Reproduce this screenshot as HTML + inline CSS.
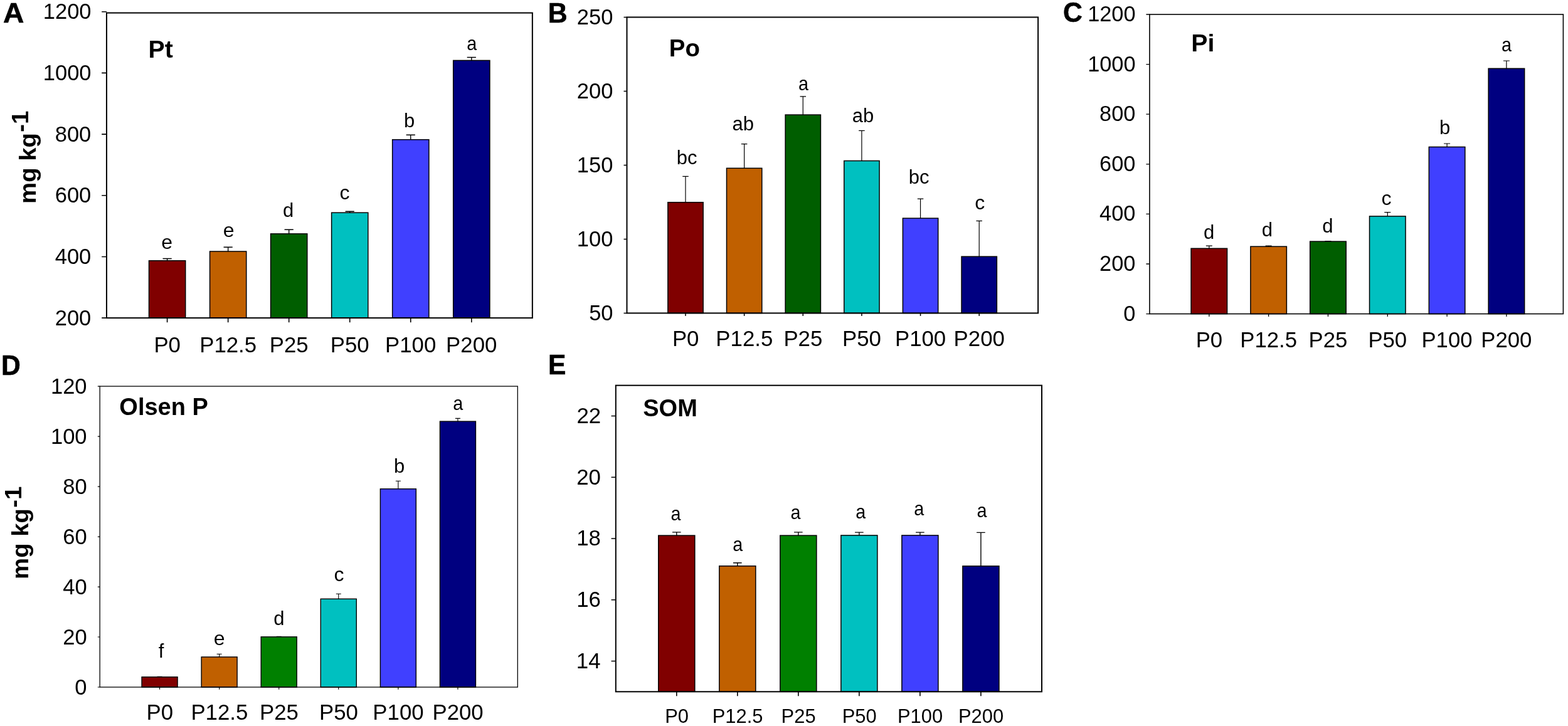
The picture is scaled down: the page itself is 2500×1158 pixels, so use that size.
<!DOCTYPE html>
<html><head><meta charset="utf-8"><title>Figure</title>
<style>html,body{margin:0;padding:0;background:#fff;overflow:hidden;}svg{display:block;}</style>
</head><body>
<svg width="2500" height="1158" viewBox="0 0 2500 1158" font-family='"Liberation Sans", Arial, sans-serif' fill="#000">
<rect width="2500" height="1158" fill="#fff"/>
<path d="M266.6 415.8V412.5M259.5 412.5H273.7" stroke="#000" stroke-width="1.4" fill="none"/>
<rect x="237.5" y="415.8" width="58.2" height="91.35" fill="#800000" stroke="#000" stroke-width="1.5"/>
<path d="M363.64 401V394.3M356.54 394.3H370.74" stroke="#000" stroke-width="1.4" fill="none"/>
<rect x="334.54" y="401" width="58.2" height="106.15" fill="#C06000" stroke="#000" stroke-width="1.5"/>
<path d="M460.68 372.9V366.3M453.58 366.3H467.78" stroke="#000" stroke-width="1.4" fill="none"/>
<rect x="431.58" y="372.9" width="58.2" height="134.25" fill="#005E00" stroke="#000" stroke-width="1.5"/>
<path d="M557.72 339.2V337.2M550.62 337.2H564.82" stroke="#000" stroke-width="1.4" fill="none"/>
<rect x="528.62" y="339.2" width="58.2" height="167.95" fill="#00C0C0" stroke="#000" stroke-width="1.5"/>
<path d="M654.76 222.7V215.2M647.66 215.2H661.86" stroke="#000" stroke-width="1.4" fill="none"/>
<rect x="625.66" y="222.7" width="58.2" height="284.45" fill="#4040FF" stroke="#000" stroke-width="1.5"/>
<path d="M751.8 96.4V91.5M744.7 91.5H758.9" stroke="#000" stroke-width="1.4" fill="none"/>
<rect x="722.7" y="96.4" width="58.2" height="410.75" fill="#000080" stroke="#000" stroke-width="1.5"/>
<path d="M266.6 507.15V514.15M363.64 507.15V514.15M460.68 507.15V514.15M557.72 507.15V514.15M654.76 507.15V514.15M751.8 507.15V514.15" stroke="#000" stroke-width="1.6" fill="none"/>
<rect x="169.95" y="20.55" width="678.9" height="486.6" fill="none" stroke="#000" stroke-width="2"/>
<path d="M162.15 507.15H169.95M162.15 409.46H169.95M162.15 311.77H169.95M162.15 214.08H169.95M162.15 116.39H169.95M162.15 18.7H169.95" stroke="#000" stroke-width="1.6" fill="none"/>
<text transform="translate(87.77 518.65) scale(1 1.02)" font-size="34.5">200</text>
<text transform="translate(87.77 420.96) scale(1 1.02)" font-size="34.5">400</text>
<text transform="translate(87.77 323.27) scale(1 1.02)" font-size="34.5">600</text>
<text transform="translate(87.77 225.58) scale(1 1.02)" font-size="34.5">800</text>
<text transform="translate(68.79 127.89) scale(1 1.02)" font-size="34.5">1000</text>
<text transform="translate(68.79 30.2) scale(1 1.02)" font-size="34.5">1200</text>
<text transform="translate(245.38 562.3) scale(1 1.02)" font-size="34.8">P0</text>
<text transform="translate(318.23 562.3) scale(1 1.02)" font-size="34.8">P12.5</text>
<text transform="translate(429.71 562.3) scale(1 1.02)" font-size="34.8">P25</text>
<text transform="translate(526.75 562.3) scale(1 1.02)" font-size="34.8">P50</text>
<text transform="translate(614.05 562.3) scale(1 1.02)" font-size="34.8">P100</text>
<text transform="translate(711.09 562.3) scale(1 1.02)" font-size="34.8">P200</text>
<text x="257.25" y="396.83" font-size="32">e</text>
<text x="355.7" y="378.28" font-size="32">e</text>
<text x="451.09" y="346.46" font-size="31">d</text>
<text x="541.54" y="318.38" font-size="32">c</text>
<text x="644.01" y="202.66" font-size="31">b</text>
<text transform="translate(744.36 80.38) scale(0.9 1)" font-size="32">a</text>
<text x="236.56" y="91.7" font-size="39.2" font-weight="bold">Pt</text>
<text transform="translate(4.91 35.9) scale(1.05 1)" font-size="44" font-weight="bold" stroke="#000" stroke-width="0.6">A</text>
<path d="M1093 322.7V281.3M1088.25 281.3H1097.75" stroke="#000" stroke-width="1.2" fill="none"/>
<rect x="1064.85" y="322.7" width="56.3" height="176.75" fill="#800000" stroke="#000" stroke-width="1.5"/>
<path d="M1186.64 268.3V229.7M1181.89 229.7H1191.39" stroke="#000" stroke-width="1.2" fill="none"/>
<rect x="1158.49" y="268.3" width="56.3" height="231.15" fill="#C06000" stroke="#000" stroke-width="1.5"/>
<path d="M1280.28 183.1V153.9M1275.53 153.9H1285.03" stroke="#000" stroke-width="1.2" fill="none"/>
<rect x="1252.13" y="183.1" width="56.3" height="316.35" fill="#005E00" stroke="#000" stroke-width="1.5"/>
<path d="M1373.92 256.5V208.3M1369.17 208.3H1378.67" stroke="#000" stroke-width="1.2" fill="none"/>
<rect x="1345.77" y="256.5" width="56.3" height="242.95" fill="#00C0C0" stroke="#000" stroke-width="1.5"/>
<path d="M1467.56 348.1V317.2M1462.81 317.2H1472.31" stroke="#000" stroke-width="1.2" fill="none"/>
<rect x="1439.41" y="348.1" width="56.3" height="151.35" fill="#4040FF" stroke="#000" stroke-width="1.5"/>
<path d="M1561.2 409.2V352.4M1556.45 352.4H1565.95" stroke="#000" stroke-width="1.2" fill="none"/>
<rect x="1533.05" y="409.2" width="56.3" height="90.25" fill="#000080" stroke="#000" stroke-width="1.5"/>
<path d="M1093 499.45V503.95M1186.64 499.45V503.95M1280.28 499.45V503.95M1373.92 499.45V503.95M1467.56 499.45V503.95M1561.2 499.45V503.95" stroke="#000" stroke-width="1.5" fill="none"/>
<rect x="999.5" y="27.45" width="655.6" height="472" fill="none" stroke="#000" stroke-width="2"/>
<path d="M994.5 499.45H999.5M994.5 381.45H999.5M994.5 263.45H999.5M994.5 145.45H999.5M994.5 27.45H999.5" stroke="#000" stroke-width="1.5" fill="none"/>
<text transform="translate(939.19 511.39) scale(1 1.02)" font-size="34.5">50</text>
<text transform="translate(919.87 393.39) scale(1 1.02)" font-size="34.5">100</text>
<text transform="translate(919.87 275.39) scale(1 1.02)" font-size="34.5">150</text>
<text transform="translate(919.87 157.39) scale(1 1.02)" font-size="34.5">200</text>
<text transform="translate(919.87 39.39) scale(1 1.02)" font-size="34.5">250</text>
<text transform="translate(1071.88 551.83) scale(1 1.01)" font-size="34.8">P0</text>
<text transform="translate(1141.33 551.83) scale(1 1.01)" font-size="34.8">P12.5</text>
<text transform="translate(1249.41 551.83) scale(1 1.01)" font-size="34.8">P25</text>
<text transform="translate(1343.05 551.83) scale(1 1.01)" font-size="34.8">P50</text>
<text transform="translate(1426.95 551.83) scale(1 1.01)" font-size="34.8">P100</text>
<text transform="translate(1520.59 551.83) scale(1 1.01)" font-size="34.8">P200</text>
<text x="1078.8" y="261.56" font-size="31">bc</text>
<text x="1167.6" y="207.96" font-size="31">ab</text>
<text transform="translate(1273.01 143.93) scale(0.9 1)" font-size="32">a</text>
<text x="1358.85" y="194.66" font-size="31">ab</text>
<text x="1448.85" y="293.36" font-size="31">bc</text>
<text x="1554.14" y="334.08" font-size="32">c</text>
<text transform="translate(1066.81 89.8) scale(0.98 1)" font-size="39.2" font-weight="bold">Po</text>
<text transform="translate(873.86 35.75) scale(0.97 1)" font-size="44" font-weight="bold" stroke="#000" stroke-width="0.6">B</text>
<path d="M1927.8 396.3V392.2M1922.8 392.2H1932.8" stroke="#000" stroke-width="1.2" fill="none"/>
<rect x="1899.05" y="396.3" width="57.5" height="104.3" fill="#800000" stroke="#000" stroke-width="1.5"/>
<path d="M2022.62 393.2V392.2M2017.62 392.2H2027.62" stroke="#000" stroke-width="1.2" fill="none"/>
<rect x="1993.87" y="393.2" width="57.5" height="107.4" fill="#C06000" stroke="#000" stroke-width="1.5"/>
<path d="M2117.44 385.1V384.6M2112.44 384.6H2122.44" stroke="#000" stroke-width="1.2" fill="none"/>
<rect x="2088.69" y="385.1" width="57.5" height="115.5" fill="#005E00" stroke="#000" stroke-width="1.5"/>
<path d="M2212.26 344.9V338.6M2207.26 338.6H2217.26" stroke="#000" stroke-width="1.2" fill="none"/>
<rect x="2183.51" y="344.9" width="57.5" height="155.7" fill="#00C0C0" stroke="#000" stroke-width="1.5"/>
<path d="M2307.08 234.4V229M2302.08 229H2312.08" stroke="#000" stroke-width="1.2" fill="none"/>
<rect x="2278.33" y="234.4" width="57.5" height="266.2" fill="#4040FF" stroke="#000" stroke-width="1.5"/>
<path d="M2401.9 109.3V97M2396.9 97H2406.9" stroke="#000" stroke-width="1.2" fill="none"/>
<rect x="2373.15" y="109.3" width="57.5" height="391.3" fill="#000080" stroke="#000" stroke-width="1.5"/>
<path d="M1927.8 500.6V505.1M2022.62 500.6V505.1M2117.44 500.6V505.1M2212.26 500.6V505.1M2307.08 500.6V505.1M2401.9 500.6V505.1" stroke="#000" stroke-width="1.3" fill="none"/>
<rect x="1832.9" y="23" width="659.5" height="477.6" fill="none" stroke="#000" stroke-width="1.6"/>
<path d="M1827.4 500.6H1832.9M1827.4 421H1832.9M1827.4 341.4H1832.9M1827.4 261.8H1832.9M1827.4 182.2H1832.9M1827.4 102.6H1832.9M1827.4 23H1832.9" stroke="#000" stroke-width="1.3" fill="none"/>
<text transform="translate(1791.16 511.67) scale(1 1.02)" font-size="34.3">0</text>
<text transform="translate(1753.09 432.07) scale(1 1.02)" font-size="34.3">200</text>
<text transform="translate(1753.09 352.47) scale(1 1.02)" font-size="34.3">400</text>
<text transform="translate(1753.09 272.87) scale(1 1.02)" font-size="34.3">600</text>
<text transform="translate(1753.09 193.27) scale(1 1.02)" font-size="34.3">800</text>
<text transform="translate(1734.23 113.67) scale(1 1.02)" font-size="34.3">1000</text>
<text transform="translate(1734.23 34.07) scale(1 1.02)" font-size="34.3">1200</text>
<text transform="translate(1906.64 553.69) scale(1 1.01)" font-size="34.7">P0</text>
<text transform="translate(1977.34 553.69) scale(1 1.01)" font-size="34.7">P12.5</text>
<text transform="translate(2086.56 553.69) scale(1 1.01)" font-size="34.7">P25</text>
<text transform="translate(2181.38 553.69) scale(1 1.01)" font-size="34.7">P50</text>
<text transform="translate(2266.49 553.69) scale(1 1.01)" font-size="34.7">P100</text>
<text transform="translate(2361.31 553.69) scale(1 1.01)" font-size="34.7">P200</text>
<text x="1918.94" y="381.01" font-size="31">d</text>
<text x="2011.74" y="377.06" font-size="31">d</text>
<text x="2108.13" y="370.96" font-size="31">d</text>
<text x="2202.44" y="326.88" font-size="32">c</text>
<text x="2295.01" y="213.51" font-size="31">b</text>
<text transform="translate(2394.01 81.73) scale(0.9 1)" font-size="32">a</text>
<text x="1899.26" y="82.1" font-size="39.2" font-weight="bold">Pi</text>
<text transform="translate(1694.99 34.7) scale(0.97 1)" font-size="44" font-weight="bold" stroke="#000" stroke-width="0.6">C</text>
<path d="M254.55 1079.8V1079.2M250.55 1079.2H258.55" stroke="#000" stroke-width="1.1" fill="none"/>
<rect x="226.05" y="1079.8" width="57" height="16.2" fill="#800000" stroke="#000" stroke-width="1.4"/>
<path d="M349.63 1047.9V1043.2M345.63 1043.2H353.63" stroke="#000" stroke-width="1.1" fill="none"/>
<rect x="321.13" y="1047.9" width="57" height="48.1" fill="#C06000" stroke="#000" stroke-width="1.4"/>
<path d="M444.71 1015.8V1015.3M440.71 1015.3H448.71" stroke="#000" stroke-width="1.1" fill="none"/>
<rect x="416.21" y="1015.8" width="57" height="80.2" fill="#008000" stroke="#000" stroke-width="1.4"/>
<path d="M539.79 955.3V947.2M535.79 947.2H543.79" stroke="#000" stroke-width="1.1" fill="none"/>
<rect x="511.29" y="955.3" width="57" height="140.7" fill="#00C0C0" stroke="#000" stroke-width="1.4"/>
<path d="M634.87 779.8V767.3M630.87 767.3H638.87" stroke="#000" stroke-width="1.1" fill="none"/>
<rect x="606.37" y="779.8" width="57" height="316.2" fill="#4040FF" stroke="#000" stroke-width="1.4"/>
<path d="M729.95 672.1V667.4M725.95 667.4H733.95" stroke="#000" stroke-width="1.1" fill="none"/>
<rect x="701.45" y="672.1" width="57" height="423.9" fill="#000080" stroke="#000" stroke-width="1.4"/>
<path d="M254.55 1096V1099.8M349.63 1096V1099.8M444.71 1096V1099.8M539.79 1096V1099.8M634.87 1096V1099.8M729.95 1096V1099.8" stroke="#000" stroke-width="1.2" fill="none"/>
<rect x="159.2" y="616.1" width="666.1" height="479.9" fill="none" stroke="#000" stroke-width="1.3"/>
<path d="M155.8 1096H159.2M155.8 1016.02H159.2M155.8 936.03H159.2M155.8 856.05H159.2M155.8 776.07H159.2M155.8 696.08H159.2M155.8 616.1H159.2" stroke="#000" stroke-width="1.2" fill="none"/>
<text transform="translate(119.26 1107.51) scale(1 1.03)" font-size="34.5">0</text>
<text transform="translate(100.28 1027.53) scale(1 1.03)" font-size="34.5">20</text>
<text transform="translate(100.28 947.54) scale(1 1.03)" font-size="34.5">40</text>
<text transform="translate(100.28 867.56) scale(1 1.03)" font-size="34.5">60</text>
<text transform="translate(100.28 787.58) scale(1 1.03)" font-size="34.5">80</text>
<text transform="translate(80.97 707.59) scale(1 1.03)" font-size="34.5">100</text>
<text transform="translate(80.97 627.61) scale(1 1.03)" font-size="34.5">120</text>
<text x="233.53" y="1147.61" font-size="34.8">P0</text>
<text x="304.42" y="1147.61" font-size="34.8">P12.5</text>
<text x="413.94" y="1147.61" font-size="34.8">P25</text>
<text x="509.02" y="1147.61" font-size="34.8">P50</text>
<text x="594.36" y="1147.61" font-size="34.8">P100</text>
<text x="689.44" y="1147.61" font-size="34.8">P200</text>
<text x="252.81" y="1049.22" font-size="31">f</text>
<text x="340.65" y="1028.53" font-size="32">e</text>
<text x="436.29" y="997.16" font-size="31">d</text>
<text x="532.44" y="926.63" font-size="32">c</text>
<text x="628.11" y="753.67" font-size="31">b</text>
<text transform="translate(722.31 653.53) scale(0.9 1)" font-size="32">a</text>
<text transform="translate(190.31 662.4) scale(0.97 1)" font-size="39.2" font-weight="bold">Olsen P</text>
<text transform="translate(2.06 598) scale(0.97 1)" font-size="44" font-weight="bold" stroke="#000" stroke-width="0.6">D</text>
<path d="M1078.8 854.1V848.9M1072 848.9H1085.6" stroke="#000" stroke-width="1.4" fill="none"/>
<rect x="1049.8" y="854.1" width="58" height="249.2" fill="#800000" stroke="#000" stroke-width="1.5"/>
<path d="M1175.82 902.8V897.8M1169.02 897.8H1182.62" stroke="#000" stroke-width="1.4" fill="none"/>
<rect x="1146.82" y="902.8" width="58" height="200.5" fill="#C06000" stroke="#000" stroke-width="1.5"/>
<path d="M1272.84 854.1V848.9M1266.04 848.9H1279.64" stroke="#000" stroke-width="1.4" fill="none"/>
<rect x="1243.84" y="854.1" width="58" height="249.2" fill="#008000" stroke="#000" stroke-width="1.5"/>
<path d="M1369.86 853.9V849.1M1363.06 849.1H1376.66" stroke="#000" stroke-width="1.4" fill="none"/>
<rect x="1340.86" y="853.9" width="58" height="249.4" fill="#00C0C0" stroke="#000" stroke-width="1.5"/>
<path d="M1466.88 853.9V849.1M1460.08 849.1H1473.68" stroke="#000" stroke-width="1.4" fill="none"/>
<rect x="1437.88" y="853.9" width="58" height="249.4" fill="#4040FF" stroke="#000" stroke-width="1.5"/>
<path d="M1563.9 902.9V849.4M1557.1 849.4H1570.7" stroke="#000" stroke-width="1.4" fill="none"/>
<rect x="1534.9" y="902.9" width="58" height="200.4" fill="#000080" stroke="#000" stroke-width="1.5"/>
<path d="M1078.8 1103.3V1110.3M1175.82 1103.3V1110.3M1272.84 1103.3V1110.3M1369.86 1103.3V1110.3M1466.88 1103.3V1110.3M1563.9 1103.3V1110.3" stroke="#000" stroke-width="1.6" fill="none"/>
<rect x="981.8" y="614.7" width="679.2" height="488.6" fill="none" stroke="#000" stroke-width="2"/>
<path d="M974.6 1054.44H981.8M974.6 956.72H981.8M974.6 859H981.8M974.6 761.28H981.8M974.6 663.56H981.8" stroke="#000" stroke-width="1.6" fill="none"/>
<text x="918.82" y="1065.75" font-size="34.8">14</text>
<text x="919.16" y="968.03" font-size="34.8">16</text>
<text x="919.16" y="870.31" font-size="34.8">18</text>
<text x="919.16" y="772.59" font-size="34.8">20</text>
<text x="919.51" y="675.04" font-size="34.8">22</text>
<text x="1060.23" y="1152.61" font-size="30.9">P0</text>
<text x="1135.78" y="1152.61" font-size="30.9">P12.5</text>
<text x="1245.62" y="1152.61" font-size="30.9">P25</text>
<text x="1342.64" y="1152.61" font-size="30.9">P50</text>
<text x="1431.01" y="1152.61" font-size="30.9">P100</text>
<text x="1528.03" y="1152.61" font-size="30.9">P200</text>
<text transform="translate(1069.46 830.08) scale(0.9 1)" font-size="32">a</text>
<text transform="translate(1168.26 879.38) scale(0.9 1)" font-size="32">a</text>
<text transform="translate(1260.46 828.23) scale(0.9 1)" font-size="32">a</text>
<text transform="translate(1364.21 826.58) scale(0.9 1)" font-size="32">a</text>
<text transform="translate(1457.26 821.78) scale(0.9 1)" font-size="32">a</text>
<text transform="translate(1557.46 824.98) scale(0.9 1)" font-size="32">a</text>
<text transform="translate(1025.25 663.9) scale(0.97 1)" font-size="39.2" font-weight="bold">SOM</text>
<text transform="translate(873.91 596.9) scale(0.97 1)" font-size="44" font-weight="bold" stroke="#000" stroke-width="0.6">E</text>
<text transform="translate(56.6 324.88) rotate(-90) scale(1 0.97)" font-size="38.3" font-weight="bold">mg kg<tspan dx="1.5" dy="-11.52">-1</tspan></text>
<text transform="translate(45 923.88) rotate(-90) scale(1 0.97)" font-size="38.3" font-weight="bold">mg kg<tspan dx="1.5" dy="-11.52">-1</tspan></text>
</svg>
</body></html>
